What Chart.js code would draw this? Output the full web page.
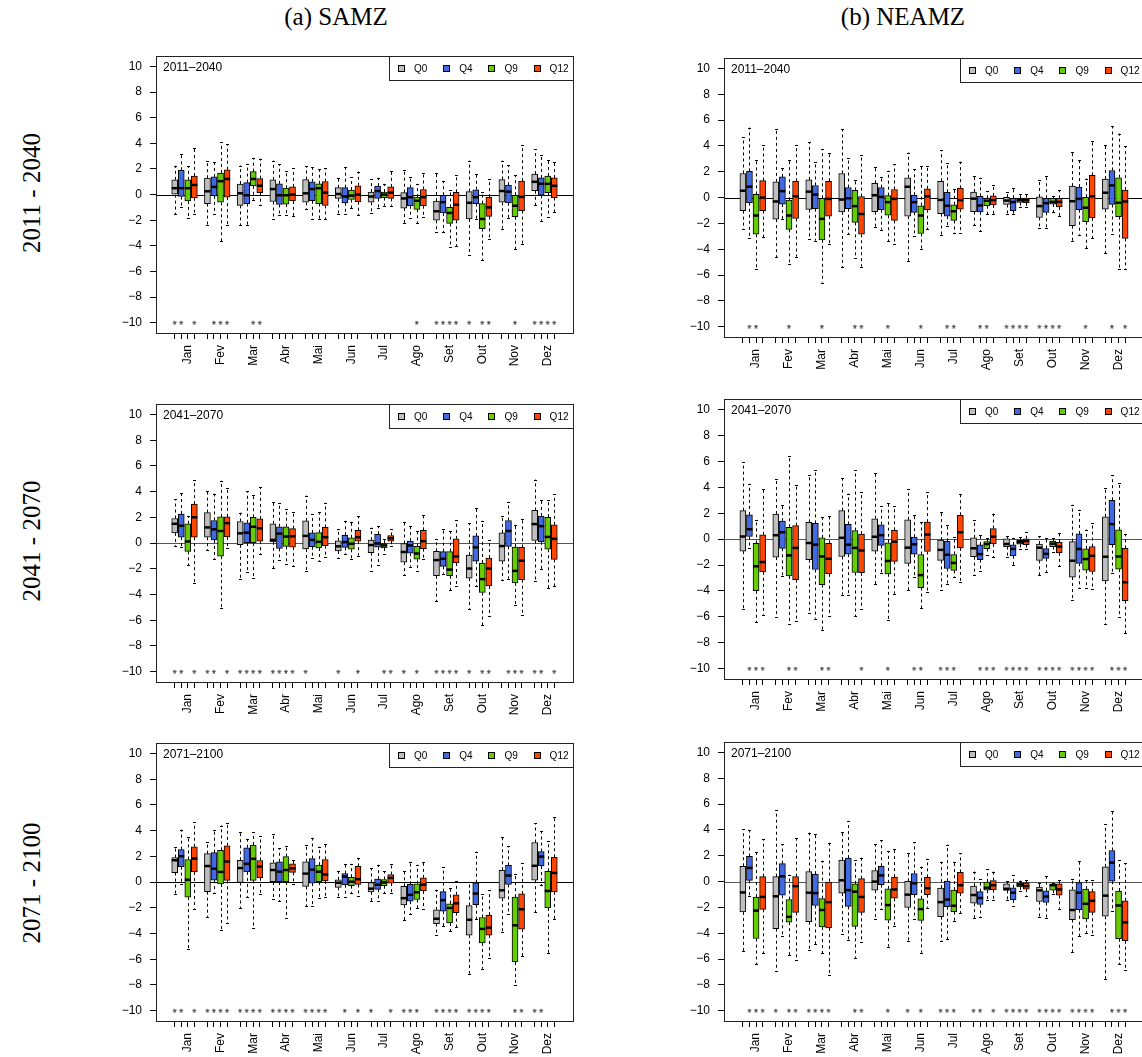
<!DOCTYPE html>
<html>
<head>
<meta charset="utf-8">
<script src="https://cdn.jsdelivr.net/npm/chart.js@4.4.0/dist/chart.umd.min.js"></script>
<style>
  html, body { margin: 0; padding: 0; background: #fff; }
  body { position: relative; width: 1142px; height: 1057px; overflow: hidden; }
  canvas { position: absolute; }
  .coltitle, .rowtitle {
    position: absolute; font-family: "Liberation Serif", "Times New Roman", serif;
    font-size: 25px; line-height: 25px; color: #000; white-space: nowrap;
  }
  .coltitle { transform: translateX(-50%); }
  .rowtitle { transform: translate(-50%, -50%) rotate(-90deg); }
</style>
</head>
<body>
<script>
// ---- data ----
const MONTHS = ['Jan', 'Fev', 'Mar', 'Abr', 'Mai', 'Jun', 'Jul', 'Ago', 'Set', 'Out', 'Nov', 'Dez'];
const SERIES = ['Q0', 'Q4', 'Q9', 'Q12'];
const Y_TICKS = [-10, -8, -6, -4, -2, 0, 2, 4, 6, 8, 10];
const STAR_LEVEL = -10;

// each entry: [lower whisker, Q1, median, Q3, upper whisker]
const SAMZ1_Q0 = [[-1.55,0,0.5,1.15,2.25],[-2.4,-0.7,0.26,1.28,2.65],[-2.4,-0.84,0.1,0.82,2.27],[-1.9,-0.54,0.43,1.15,2.65],[-1.15,-0.6,0.1,1.17,2.2],[-1.5,-0.3,0.05,0.54,1.3],[-1.43,-0.6,-0.15,0.2,1.2],[-2.2,-1.05,-0.3,0.15,1.9],[-2.9,-2.0,-1.3,-0.5,1.68],[-4.75,-1.9,-0.64,0.23,2.65],[-2.65,-0.6,0.28,1.17,2.65],[-0.84,0.3,1.0,1.6,3.55]];
const SAMZ1_Q4 = [[-1.0,-0.15,0.5,1.9,3.2],[-1.55,-0.1,0.6,1.38,2.55],[-2.4,-0.7,-0.05,0.94,2.4],[-1.6,-0.77,-0.05,0.84,2.35],[-1.9,-0.48,0.43,1.0,2.14],[-1.5,-0.64,-0.15,0.54,2.14],[-1.05,-0.3,0.28,0.66,1.3],[-1.8,-0.87,-0.2,0.54,1.35],[-2.95,-1.43,-0.59,-0.05,1.07],[-1.9,-0.7,-0.2,0.38,1.6],[-1.8,-0.64,0.23,0.74,2.3],[-2.04,-0.05,0.84,1.3,3.06]];
const SAMZ1_Q9 = [[-1.8,-0.5,0.5,1.15,2.2],[-3.65,-0.6,1.05,1.68,4.1],[-0.4,0.69,1.22,1.79,2.86],[-1.6,-0.74,-0.05,0.5,1.86],[-1.9,-0.7,0.5,0.84,2.0],[-1.05,-0.38,-0.08,0.36,1.35],[-0.87,-0.23,0,0.2,0.84],[-2.25,-1.15,-0.48,-0.2,0.84],[-4.1,-2.25,-1.43,-1.0,0.38],[-5.1,-2.65,-1.9,-0.7,0.2],[-4.26,-1.73,-0.87,-0.05,1.5],[-1.73,0.15,0.84,1.45,2.73]];
const SAMZ1_Q12 = [[-1.55,-0.25,0.75,1.45,3.65],[-2.4,-0.2,1.22,1.94,3.95],[-0.82,0.15,0.69,1.25,2.8],[-1.66,-0.5,0,0.6,2.04],[-1.9,-0.84,0.15,1.02,2.04],[-1.6,-0.56,0,0.69,1.8],[-0.87,-0.3,0.15,0.6,1.86],[-1.73,-0.87,-0.2,0.4,1.68],[-4.03,-2.0,-0.79,0.18,1.5],[-3.5,-1.7,-1.0,-0.2,1.22],[-3.83,-1.25,-0.18,1.05,3.88],[-1.35,-0.23,0.69,1.3,2.55]];
const SAMZ1_SIG = ['1101','0111','0011','0000','0000','0000','0000','0010','1111','1011','0010','1111'];

const NEAMZ1_Q0 = [[-2.43,-1.01,0.53,1.87,4.66],[-4.63,-1.67,-0.3,1.22,5.32],[-3.24,-0.91,0.46,1.37,4.28],[-5.37,-1.11,-0.15,1.87,5.32],[-2.3,-1.09,0.18,1.11,2.35],[-4.89,-1.44,0.84,1.54,3.49],[-2.91,-1.24,-0.18,1.27,3.65],[-2.13,-1.09,-0.08,0.43,1.65],[-1.27,-0.53,-0.23,0.03,0.46],[-2.33,-1.54,-0.66,0.05,1.34],[-3.34,-2.18,-0.28,0.89,3.54],[-4.33,-0.89,0.38,1.44,4.05]];
const NEAMZ1_Q4 = [[-3.16,-0.4,0.84,2.03,5.42],[-1.67,-0.5,0.5,1.6,2.3],[-3.34,-0.86,0.23,0.94,2.78],[-2.84,-0.86,-0.05,0.78,3.04],[-2.48,-0.94,0.05,0.78,1.62],[-3.01,-1.14,-0.35,0.18,2.18],[-2.23,-1.44,-0.63,0.41,2.71],[-2.61,-1.11,-0.61,0.1,1.54],[-1.27,-1.01,-0.35,-0.05,0.71],[-2.38,-1.14,-0.43,-0.05,1.67],[-2.86,-0.94,-0.1,0.81,2.91],[-2.81,-0.53,0.94,2.1,5.54]];
const NEAMZ1_Q9 = [[-5.54,-2.84,-1.39,0.25,2.91],[-5.11,-2.46,-1.39,-0.2,2.91],[-6.58,-3.27,-1.65,-0.05,3.75],[-4.68,-1.92,-0.66,0.56,1.37],[-3.39,-1.37,-0.35,0.15,2.08],[-3.95,-2.78,-1.39,-0.63,2.46],[-2.73,-1.77,-1.06,-0.56,0.66],[-1.29,-0.63,-0.25,-0.05,0.48],[-0.71,-0.38,-0.2,-0.05,0.25],[-1.14,-0.5,-0.33,-0.05,0.13],[-3.92,-1.87,-0.78,0.03,1.47],[-5.52,-1.47,-0.4,1.54,4.96]];
const NEAMZ1_Q12 = [[-3.09,-1.01,0,1.32,4.08],[-4.58,-1.62,0.1,1.27,4.08],[-3.6,-1.44,-0.1,1.27,3.42],[-5.34,-2.84,-1.27,0.08,3.29],[-3.6,-1.77,-0.1,0.63,2.58],[-2.46,-0.94,0.1,0.68,2.41],[-2.78,-0.89,-0.2,0.73,2.78],[-1.27,-0.56,-0.2,0.13,0.99],[-0.73,-0.4,-0.2,0,0.3],[-1.42,-0.73,-0.33,-0.05,0.56],[-3.16,-1.57,0.1,1.72,4.38],[-5.52,-3.16,-0.3,0.58,3.97]];
const NEAMZ1_SIG = ['0110','0010','0010','0011','0010','0010','0110','0110','1111','1111','0010','0101'];

const SAMZ2_Q0 = [[-0.2,0.79,1.5,1.91,3.41],[-0.56,0.46,1.22,2.37,4.02],[-2.8,-0.13,0.76,1.68,2.37],[-1.96,0.1,0.25,1.5,3.21],[-2.19,-0.46,0.56,1.73,3.69],[-1.12,-0.61,-0.25,0.18,1.12],[-2.14,-0.74,-0.15,0.23,1.2],[-2.49,-1.48,-0.69,-0.03,1.65],[-4.53,-2.54,-1.32,-0.64,0.28],[-5.11,-2.72,-1.98,-0.94,1.53],[-2.85,-1.4,-0.23,0.79,2.09],[-2.93,0.2,1.48,2.54,4.94]];
const SAMZ2_Q4 = [[-0.28,0.46,1.35,2.26,3.89],[-1.22,0.25,1.07,1.76,3.84],[-2.21,0,0.81,1.58,4.02],[-1.3,-0.41,0.74,1.27,3.08],[-1.12,-0.28,0.25,0.79,2.26],[-0.87,-0.33,0.08,0.61,1.73],[-1.68,-0.31,-0.03,0.69,1.32],[-1.83,-0.79,-0.18,0.15,1.32],[-2.37,-1.81,-1.22,-0.66,1.09],[-3.33,-1.4,-0.33,0.56,2.72],[-2.77,-0.25,0.94,1.76,3.21],[-2.04,0.1,1.32,2.11,3.36]];
const SAMZ2_Q9 = [[-1.73,-0.64,0.13,1.5,2.11],[-5.04,-1.02,0.94,2.04,4.86],[-2.72,0,1.27,2.01,3.74],[-1.63,-0.25,0.51,1.27,2.62],[-1.37,-0.38,0.1,0.81,2.39],[-1.25,-0.48,-0.05,0.41,1.65],[-0.87,-0.38,-0.18,0,0.31],[-2.16,-1.25,-0.81,-0.25,0.92],[-3.66,-2.54,-2.06,-0.66,0.94],[-6.39,-3.84,-2.8,-1.55,1.73],[-4.83,-3.1,-2.16,-0.31,1.37],[-3.49,-0.48,0.48,2.01,3.36]];
const SAMZ2_Q12 = [[-3.13,0.46,2.01,3.03,4.89],[-0.38,0.48,1.55,2.04,4.25],[-0.84,0.15,1.15,1.88,4.33],[-1.76,-0.31,0.53,1.12,2.44],[-1.07,-0.2,0.46,1.22,3.13],[-0.97,0.15,0.46,0.99,2.09],[-0.25,0.15,0.38,0.59,1.09],[-1.27,-0.43,0.15,0.99,2.19],[-3.36,-1.55,-1.04,0.33,1.76],[-5.67,-3.33,-1.98,-1.17,0.23],[-5.6,-2.85,-1.37,-0.33,1.86],[-3.33,-1.27,0.33,1.42,3.79]];
const SAMZ2_SIG = ['1101','1101','1111','1111','1000','1001','0011','1010','1111','1011','0111','1101'];

const NEAMZ2_Q0 = [[-5.43,-0.93,0.2,2.2,5.96],[-6.04,-1.39,0.3,1.94,4.65],[-5.68,-1.59,-0.3,1.29,4.95],[-4.29,-1.34,0.1,2.2,4.7],[-3.48,-0.93,0.18,1.57,5.13],[-3.96,-1.87,-0.66,1.49,3.86],[-3.94,-1.64,-0.83,-0.08,2.1],[-2.8,-1.36,-0.71,0.1,1.46],[-1.41,-0.58,-0.38,0.03,0.23],[-2.78,-1.64,-0.66,-0.38,0.23],[-4.72,-2.93,-1.67,-0.2,2.65],[-6.52,-3.23,-1.36,1.72,3.96]];
const NEAMZ2_Q4 = [[-0.68,0.2,0.76,1.87,4.27],[-2.88,-0.71,0.53,1.39,2.65],[-6.14,-2.35,-0.43,1.21,5.35],[-4.32,-1.16,-0.43,1.14,3.51],[-2.65,-0.48,0.3,1.11,2.53],[-2.95,-1.16,-0.4,0.15,1.89],[-3.43,-2.27,-1.21,-0.18,1.09],[-2.47,-1.59,-1.16,-0.45,0.33],[-2.0,-1.29,-0.76,-0.45,0.05],[-2.53,-1.49,-1.14,-0.73,0.05],[-3.76,-1.87,-0.76,0.4,2.27],[-2.58,-0.43,1.16,3.0,4.92]];
const NEAMZ2_Q9 = [[-6.39,-3.99,-2.1,-0.33,1.49],[-6.57,-2.85,-1.26,0.91,6.39],[-7.05,-3.51,-1.34,0.1,1.69],[-5.96,-2.58,-0.68,0.66,5.33],[-6.26,-2.68,-1.69,-0.28,2.8],[-5.33,-3.74,-2.78,-1.19,1.29],[-2.95,-2.42,-1.84,-1.19,0.2],[-1.19,-0.73,-0.38,-0.2,0.08],[-0.78,-0.4,-0.23,-0.1,0.18],[-1.01,-0.58,-0.35,-0.15,0.05],[-3.81,-2.4,-1.54,-0.76,0.73],[-6.01,-2.32,-1.34,0.71,4.34]];
const NEAMZ2_Q12 = [[-5.83,-2.53,-1.77,0.33,3.86],[-6.34,-3.13,-0.68,1.04,4.19],[-5.91,-2.68,-1.52,-0.33,1.77],[-5.38,-2.6,-0.88,0.38,3.64],[-4.22,-1.72,-0.2,0.68,2.55],[-4.07,-0.96,0.35,1.31,3.64],[-3.28,-0.68,0.53,1.84,3.48],[-1.41,-0.38,0.18,0.81,1.97],[-0.78,-0.43,-0.15,0.03,0.56],[-2.07,-1.06,-0.58,-0.25,0.45],[-3.86,-2.5,-1.29,-0.58,1.21],[-7.25,-4.75,-3.33,-0.71,0.38]];
const NEAMZ2_SIG = ['0111','0011','0011','0001','0010','0110','1110','0111','1111','1111','1111','0111'];

const SAMZ3_Q0 = [[-0.92,0.74,1.7,1.91,2.75],[-2.7,-0.74,1.25,2.21,3.1],[-2.04,-0.03,1.09,1.7,3.89],[-1.35,0,0.94,1.5,3.72],[-1.86,-0.33,0.66,1.58,2.88],[-1.17,-0.41,-0.05,0.18,0.87],[-1.45,-0.76,-0.51,-0.03,1.09],[-2.95,-1.78,-1.25,-0.33,0.89],[-4.1,-3.23,-2.85,-2.16,-0.59],[-7.12,-4.12,-2.93,-1.83,0],[-3.89,-1.25,-0.64,0.92,3.49],[-2.34,0.15,1.27,3.08,4.58]];
const SAMZ3_Q4 = [[-0.18,1.2,2.01,2.52,4.07],[-0.81,0.15,1.04,2.29,4.07],[-1.15,0.79,1.42,2.67,3.36],[-1.48,0,0.81,1.58,2.65],[-1.88,-0.08,0.97,1.83,3.44],[-1.12,-0.2,0.43,0.66,1.42],[-1.45,-0.56,-0.2,0.23,1.35],[-2.49,-1.48,-0.99,-0.18,1.55],[-3.41,-2.26,-1.4,-0.74,1.17],[-2.9,-1.76,-0.89,-0.05,2.37],[-2.49,-0.18,0.51,1.3,2.8],[-0.25,1.25,1.98,2.37,3.94]];
const SAMZ3_Q9 = [[-5.19,-1.17,0.18,1.76,3.51],[-3.72,-0.15,0.79,2.47,4.4],[-3.59,0.13,1.81,2.88,3.89],[-2.77,0,0.94,1.98,2.77],[-1.25,0,0.81,1.32,2.75],[-0.84,-0.28,0.03,0.38,1.42],[-0.87,-0.28,-0.03,0.2,0.84],[-2.01,-1.35,-0.79,-0.13,1.35],[-3.82,-3.18,-2.01,-1.68,-0.43],[-6.74,-4.73,-3.64,-2.75,-0.92],[-7.99,-6.21,-3.36,-1.17,0.61],[-5.5,-2.01,-0.69,0.84,3.18]];
const SAMZ3_Q12 = [[-2.06,0.79,1.83,2.75,4.68],[-3.16,0.13,1.6,2.82,4.63],[-0.89,0.33,1.2,1.68,3.59],[-0.13,0.76,1.07,1.42,1.7],[-1.12,0.1,0.59,1.76,2.95],[-1.09,-0.18,0.23,1.22,1.88],[-0.87,-0.08,0.33,0.59,1.4],[-2.06,-0.69,-0.2,0.33,1.58],[-3.51,-2.37,-1.65,-0.99,0.05],[-5.9,-4.12,-3.54,-2.57,-0.64],[-5.78,-3.66,-2.11,-0.92,1.48],[-2.88,-0.76,0.71,1.93,5.09]];
const SAMZ3_SIG = ['1101','1111','1111','1111','1111','0101','1001','1110','1111','1111','0011','1100'];

const NEAMZ3_Q0 = [[-5.39,-2.35,-0.84,1.19,4.05],[-6.91,-3.65,-1.14,0.38,5.54],[-5.32,-3.11,-0.86,0.78,3.8],[-4.05,-0.89,0.1,1.67,3.82],[-2.86,-0.66,0,0.86,2.91],[-4.61,-2.0,-1.01,0.03,2.23],[-4.61,-2.71,-1.59,-0.51,1.54],[-2.81,-1.67,-1.04,-0.35,0.78],[-1.44,-0.68,-0.56,-0.18,0.03],[-2.78,-1.54,-0.68,-0.43,-0.08],[-5.44,-2.94,-2.2,-0.63,0.18],[-7.54,-2.68,-1.09,1.14,4.43]];
const NEAMZ3_Q4 = [[-1.09,0.1,1.06,1.95,3.97],[-4.25,-1.06,0.41,1.39,2.89],[-4.86,-1.85,-0.89,0.58,3.67],[-4.51,-1.92,-0.66,1.82,4.71],[-2.13,-0.23,0.48,1.19,3.19],[-2.86,-1.01,-0.13,0.63,3.06],[-4.46,-1.95,-1.39,0.03,2.86],[-2.73,-1.77,-1.27,-0.78,0.2],[-1.9,-1.42,-0.86,-0.48,0.51],[-2.81,-1.62,-1.16,-0.71,0.41],[-4.25,-2.18,-0.86,-0.08,1.62],[-2.25,0.03,1.47,2.41,5.47]];
const NEAMZ3_Q9 = [[-6.41,-4.41,-2.25,-1.19,2.3],[-5.72,-3.14,-2.73,-1.39,0.53],[-5.54,-3.52,-2.2,-1.32,1.62],[-5.9,-3.47,-0.78,-0.18,1.65],[-5.04,-2.99,-1.82,-0.56,2.38],[-5.52,-3.01,-2.13,-1.34,1.16],[-3.06,-2.33,-1.87,-0.66,1.49],[-1.39,-0.66,-0.48,-0.03,0.94],[-0.73,-0.41,-0.23,-0.1,0.08],[-0.94,-0.66,-0.28,-0.18,-0.08],[-3.97,-2.89,-1.72,-0.58,0.13],[-6.41,-4.43,-1.85,-0.73,1.67]];
const NEAMZ3_Q12 = [[-5.57,-2.15,-1.19,0.38,3.29],[-6.05,-2.38,-0.35,0.38,3.37],[-7.22,-3.59,-1.59,0,3.01],[-4.71,-2.38,-1.19,0.23,1.85],[-3.42,-1.29,-0.61,0.35,2.53],[-2.03,-1.01,-0.51,0.33,1.77],[-2.43,-0.89,-0.28,0.71,2.18],[-1.44,-0.63,-0.28,0.08,0.78],[-1.09,-0.58,-0.35,-0.1,0.1],[-2.1,-1.06,-0.61,-0.18,0.15],[-4.13,-2.38,-1.49,-0.78,0.15],[-6.86,-4.58,-3.16,-1.49,1.44]];
const NEAMZ3_SIG = ['0111','1011','1111','0011','0010','1010','1110','1101','1111','1111','1111','0111'];

// ---- styling / layout ----
const COLORS = ['#BEBEBE', '#4169E1', '#66CD00', '#FF4500'];
const FONT = '"Liberation Sans", Arial, Helvetica, sans-serif';
const PAD_L = 2, Y_W = 44, PAD_R = 4, PAD_T = 10, X_H = 44, PAD_B = 2;

// plot area [left, top, right, bottom] in page pixels
const PANELS = [
  { title: '2011–2040', stats: [SAMZ1_Q0, SAMZ1_Q4, SAMZ1_Q9, SAMZ1_Q12], sig: SAMZ1_SIG, area: [155.5, 51, 573.5, 333], zero: '#000' },
  { title: '2011–2040', stats: [NEAMZ1_Q0, NEAMZ1_Q4, NEAMZ1_Q9, NEAMZ1_Q12], sig: NEAMZ1_SIG, area: [724.3, 53, 1144.6, 337], zero: '#000' },
  { title: '2041–2070', stats: [SAMZ2_Q0, SAMZ2_Q4, SAMZ2_Q9, SAMZ2_Q12], sig: SAMZ2_SIG, area: [155.5, 398.5, 573.5, 681.5], zero: '#555' },
  { title: '2041–2070', stats: [NEAMZ2_Q0, NEAMZ2_Q4, NEAMZ2_Q9, NEAMZ2_Q12], sig: NEAMZ2_SIG, area: [724.3, 394, 1144.6, 679], zero: '#555' },
  { title: '2071–2100', stats: [SAMZ3_Q0, SAMZ3_Q4, SAMZ3_Q9, SAMZ3_Q12], sig: SAMZ3_SIG, area: [155.5, 738, 573.5, 1021], zero: '#000' },
  { title: '2071–2100', stats: [NEAMZ3_Q0, NEAMZ3_Q4, NEAMZ3_Q9, NEAMZ3_Q12], sig: NEAMZ3_SIG, area: [724.3, 737, 1144.6, 1021], zero: '#555' }
];

// slot position of a box: 4 boxes per month, one empty slot between months
const slot = (m, s) => m * 5 + s + 1;
const SLOTS = [];
MONTHS.forEach((_, m) => SERIES.forEach((_, s) => SLOTS.push(slot(m, s))));

function makeStar() {
  const c = document.createElement('canvas');
  c.width = 10; c.height = 14;
  const g = c.getContext('2d');
  g.fillStyle = '#000';
  g.font = '11px ' + FONT;
  g.textAlign = 'center';
  g.fillText('*', 5, 13.3);
  return c;
}
const starImg = makeStar();

const crisp = v => Math.round(v) + 0.5;

const boxParts = {
  id: 'boxParts',
  beforeDatasetsDraw(chart, args, opts) {
    const { ctx, chartArea: a, scales: { x, y } } = chart;
    ctx.save();
    // zero line
    ctx.strokeStyle = opts.zero;
    ctx.lineWidth = 1;
    ctx.beginPath();
    ctx.moveTo(a.left, crisp(y.getPixelForValue(0)));
    ctx.lineTo(a.right, crisp(y.getPixelForValue(0)));
    ctx.stroke();
    // whiskers + staples
    ctx.strokeStyle = '#000';
    chart.data.datasets.forEach(ds => {
      if (!ds.stats) return;
      ds.stats.forEach((st, m) => {
        const px = crisp(x.getPixelForValue(ds.data[m].x));
        const yLo = y.getPixelForValue(st[0]), yQ1 = y.getPixelForValue(st[1]);
        const yQ3 = y.getPixelForValue(st[3]), yHi = y.getPixelForValue(st[4]);
        ctx.setLineDash([3, 3]);
        ctx.beginPath();
        ctx.moveTo(px, yQ1); ctx.lineTo(px, yLo);
        ctx.moveTo(px, yQ3); ctx.lineTo(px, yHi);
        ctx.stroke();
        ctx.setLineDash([]);
        ctx.beginPath();
        ctx.moveTo(px - 1.5, crisp(yLo)); ctx.lineTo(px + 1.5, crisp(yLo));
        ctx.moveTo(px - 1.5, crisp(yHi)); ctx.lineTo(px + 1.5, crisp(yHi));
        ctx.stroke();
      });
    });
    ctx.restore();
  },
  afterDatasetsDraw(chart, args, opts) {
    const { ctx, chartArea: a, scales: { x, y } } = chart;
    ctx.save();
    // medians
    ctx.strokeStyle = '#000';
    ctx.lineWidth = 2.5;
    chart.data.datasets.forEach(ds => {
      if (!ds.stats) return;
      ds.stats.forEach((st, m) => {
        const px = x.getPixelForValue(ds.data[m].x);
        const py = y.getPixelForValue(st[2]);
        ctx.beginPath();
        ctx.moveTo(px - 3, py); ctx.lineTo(px + 3, py);
        ctx.stroke();
      });
    });
    // frame
    ctx.lineWidth = 1;
    ctx.strokeStyle = '#222';
    ctx.strokeRect(crisp(a.left), crisp(a.top), Math.round(a.right - a.left), Math.round(a.bottom - a.top));
    // period label
    ctx.fillStyle = '#000';
    ctx.font = '12px ' + FONT;
    ctx.textBaseline = 'middle';
    ctx.textAlign = 'left';
    ctx.fillText(opts.title, a.left + 7, a.top + 11);
    // legend box
    const lw = 184, lh = 24;
    const lx = Math.round(a.right - lw), ly = Math.round(a.top);
    ctx.fillStyle = '#fff';
    ctx.fillRect(lx, ly, lw, lh);
    ctx.strokeStyle = '#222';
    ctx.strokeRect(lx + 0.5, ly + 0.5, lw, lh);
    ctx.font = '10px ' + FONT;
    chart.data.datasets.forEach((ds, s) => {
      if (!ds.stats) return;
      const cx = lx + 12.5 + s * 45.2, cy = ly + 12.5;
      ctx.fillStyle = ds.backgroundColor;
      ctx.fillRect(Math.round(cx - 3.5), Math.round(cy - 3.5), 7, 7);
      ctx.strokeStyle = '#000';
      ctx.strokeRect(Math.round(cx - 3.5) + 0.5, Math.round(cy - 3.5) + 0.5, 6, 6);
      ctx.fillStyle = '#000';
      ctx.fillText(ds.label, cx + 12.5, cy + 0.5);
    });
    ctx.restore();
  }
};

function makePanel(p) {
  const [l, t, r, b] = p.area;
  const cLeft = Math.round(l - PAD_L - Y_W);
  const cTop = Math.round(t - PAD_T);
  const cW = Math.round(r + PAD_R) - cLeft;
  const cH = Math.round(b + X_H + PAD_B) - cTop;
  const canvas = document.createElement('canvas');
  canvas.width = cW; canvas.height = cH;
  canvas.style.left = cLeft + 'px';
  canvas.style.top = cTop + 'px';
  canvas.style.width = cW + 'px';
  canvas.style.height = cH + 'px';
  document.body.appendChild(canvas);

  const datasets = SERIES.map((name, s) => ({
    type: 'bar',
    label: name,
    stats: p.stats[s],
    data: p.stats[s].map((st, m) => ({ x: slot(m, s), y: [st[1], st[3]] })),
    backgroundColor: COLORS[s],
    borderColor: '#000',
    borderWidth: 1,
    borderSkipped: false,
    barThickness: 6,
    grouped: false
  }));
  const stars = [];
  p.sig.forEach((flags, m) => {
    flags.split('').forEach((f, s) => { if (f === '1') stars.push({ x: slot(m, s), y: STAR_LEVEL }); });
  });
  datasets.push({ type: 'scatter', label: 'sig', data: stars, pointStyle: starImg, showLine: false });

  new Chart(canvas, {
    type: 'bar',
    data: { datasets },
    options: {
      responsive: false,
      animation: false,
      events: [],
      layout: { padding: { left: PAD_L, right: PAD_R, top: PAD_T, bottom: PAD_B } },
      plugins: {
        legend: { display: false },
        tooltip: { enabled: false },
        boxParts: { zero: p.zero, title: p.title }
      },
      scales: {
        x: {
          type: 'linear',
          min: -1.86, max: 61.86,
          offset: false,
          afterBuildTicks: s => { s.ticks = SLOTS.map(v => ({ value: v })); },
          afterFit: s => { s.height = X_H; },
          grid: { offset: false, drawOnChartArea: false, drawTicks: true, tickLength: 6, color: '#000' },
          border: { display: false },
          ticks: {
            autoSkip: false, minRotation: 90, maxRotation: 90, padding: 6,
            color: '#000', font: { family: FONT, size: 12 },
            callback: (v, i) => (i % 4 === 2 ? MONTHS[Math.floor(i / 4)] : '')
          }
        },
        y: {
          min: -10.8, max: 10.8,
          afterBuildTicks: s => { s.ticks = Y_TICKS.map(v => ({ value: v })); },
          afterFit: s => { s.width = Y_W; },
          grid: { drawOnChartArea: false, drawTicks: true, tickLength: 6, color: '#000' },
          border: { display: true, color: '#222' },
          ticks: {
            padding: 8, color: '#000', font: { family: FONT, size: 12 },
            callback: v => (v < 0 ? '\u2212' + Math.abs(v) : String(v))
          }
        }
      }
    },
    plugins: [boxParts]
  });
}

PANELS.forEach(makePanel);

// column and row headings
function addText(cls, text, x, y) {
  const d = document.createElement('div');
  d.className = cls;
  d.textContent = text;
  d.style.left = x + 'px';
  d.style.top = y + 'px';
  document.body.appendChild(d);
}
addText('coltitle', '(a) SAMZ', 336, 4);
addText('coltitle', '(b) NEAMZ', 903, 4);
addText('rowtitle', '2011 - 2040', 31, 193);
addText('rowtitle', '2041 - 2070', 31, 541);
addText('rowtitle', '2071 - 2100', 31, 883);
</script>
</body>
</html>
